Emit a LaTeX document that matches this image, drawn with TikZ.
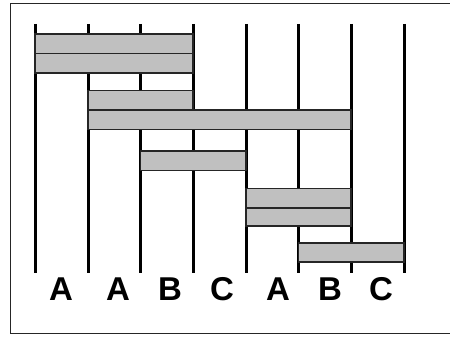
\documentclass[tikz,border=0pt]{standalone}
\usepackage{fontspec}
\setmainfont{Liberation Sans}
\definecolor{barfill}{HTML}{C0C0C0}
\tikzset{
  vline/.style={line width=3pt, black},
  bar/.style={draw=black!85, line width=1.8pt, fill=barfill},
  lbl/.style={font=\fontsize{33}{33}\selectfont\bfseries, inner sep=0pt, anchor=base},
  frame/.style={line width=1.3pt, black!85}
}
\begin{document}
\begin{tikzpicture}[x=1pt,y=-1pt]
\useasboundingbox (0,0) rectangle (450,337);
\draw[frame] (460,3.5) -- (10.5,3.5) -- (10.5,333.5) -- (460,333.5);
% vertical lines
\foreach \x in {35,88,140.5,193,246,298.5,351,404}
  \draw[vline] (\x,24) -- (\x,273);
% bars
\draw[bar] (35,34) rectangle (193,53.5);
\draw[bar] (35,53.5) rectangle (193,73);
\draw[bar] (88,90.5) rectangle (193,110);
\draw[bar] (88,110) rectangle (351,129.5);
\draw[bar] (140.5,151) rectangle (246,170.5);
\draw[bar] (246,188.5) rectangle (351,208);
\draw[bar] (246,208) rectangle (351,226);
\draw[bar] (298.5,243) rectangle (404,262);
% labels
\node[lbl] (l1) at (61,300) {A};
\node[lbl] (l2) at (118,300) {A};
\node[lbl] (l3) at (170,300) {B};
\node[lbl] (l4) at (222,300) {C};
\node[lbl] (l5) at (278,300) {A};
\node[lbl] (l6) at (330,300) {B};
\node[lbl] (l7) at (381,300) {C};
\end{tikzpicture}
\end{document}
